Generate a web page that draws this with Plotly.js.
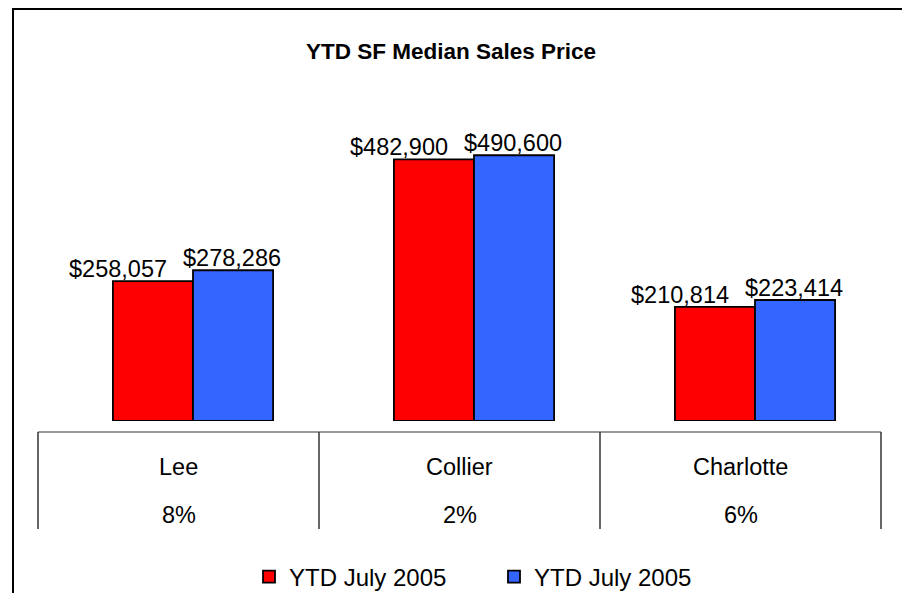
<!DOCTYPE html>
<html>
<head>
<meta charset="utf-8">
<script src="https://cdn.plot.ly/plotly-3.0.1.min.js"></script>
<style>html,body{margin:0;padding:0;background:#fff;}#chart{width:902px;height:593px;}</style>
</head>
<body>
<div id="chart"></div>
<script>
var categories = ["Lee", "Collier", "Charlotte"];
var seriesNames = ["YTD July 2005", "YTD July 2005"];
var series1 = [258057, 482900, 210814];
var series2 = [278286, 490600, 223414];
var pctChange = ["8%", "2%", "6%"];

var FONT = "Liberation Sans, Arial, sans-serif";
function money(v){ return "$" + v.toLocaleString("en-US"); }

var traces = [
  {type:"bar", name:seriesNames[0], x:categories, y:series1,
   marker:{color:"#FF0000", line:{color:"#000", width:1.8}}, hoverinfo:"skip"},
  {type:"bar", name:seriesNames[1], x:categories, y:series2,
   marker:{color:"#3366FF", line:{color:"#000", width:1.8}}, hoverinfo:"skip"}
];

// plot area: x 38..881, y 96..421
var H = 325, base = 421;
function py(pix){ return (base - pix) / H; }
var n = categories.length;
var barShift = 14.5 / 281; // bars sit slightly right of the table cells

var annotations = [];
categories.forEach(function(c, i){
  annotations.push({x:c, xref:"x", y:series1[i], yref:"y", text:money(series1[i]),
    showarrow:false, xanchor:"center", yanchor:"bottom", xshift:-75, yshift:-3,
    font:{family:FONT, size:23.5, color:"#000"}});
  annotations.push({x:c, xref:"x", y:series2[i], yref:"y", text:money(series2[i]),
    showarrow:false, xanchor:"center", yanchor:"bottom", xshift:39, yshift:-3,
    font:{family:FONT, size:23.5, color:"#000"}});
  annotations.push({x:(i+0.5)/n, xref:"paper", y:py(467), yref:"paper", text:c,
    showarrow:false, xanchor:"center", yanchor:"middle",
    font:{family:FONT, size:23.5, color:"#000"}});
  annotations.push({x:(i+0.5)/n, xref:"paper", y:py(515), yref:"paper", text:pctChange[i],
    showarrow:false, xanchor:"center", yanchor:"middle",
    font:{family:FONT, size:23.5, color:"#000"}});
});

var shapes = [
  {type:"rect", xref:"paper", yref:"paper", x0:(13-38)/843, x1:1.2, y0:py(9), y1:-0.8,
   line:{color:"#000", width:2}, fillcolor:"rgba(0,0,0,0)", layer:"below"},
  {type:"line", xref:"paper", yref:"paper", x0:0, x1:1, y0:py(432), y1:py(432),
   line:{color:"#777", width:1.5}}
];
for (var k = 0; k <= n; k++) {
  shapes.push({type:"line", xref:"paper", yref:"paper", x0:k/n, x1:k/n, y0:py(432), y1:py(529),
    line:{color:"#333", width:1.5}});
}

var layout = {
  width:902, height:593,
  margin:{l:38, r:21, t:96, b:172, autoexpand:false},
  paper_bgcolor:"#fff", plot_bgcolor:"#fff",
  font:{family:FONT, color:"#000"},
  title:{text:"<b>YTD SF Median Sales Price</b>", xref:"container", x:0.5, xanchor:"center",
         yref:"container", y:1-51/593, yanchor:"middle", font:{family:FONT, size:22.5, color:"#000"}},
  barmode:"group", bargap:0.43, bargroupgap:0,
  xaxis:{range:[-0.5 - barShift, n - 0.5 - barShift], showticklabels:false, showgrid:false, zeroline:false, showline:false, ticks:""},
  yaxis:{range:[0, 600000], showticklabels:false, showgrid:false, zeroline:false, showline:false, ticks:""},
  showlegend:true,
  legend:{orientation:"h", x:(494-38)/843, xanchor:"center", y:py(577), yanchor:"middle",
          entrywidth:200, entrywidthmode:"pixels",
          font:{family:FONT, size:24, color:"#000"}, bgcolor:"rgba(0,0,0,0)", traceorder:"normal"},
  annotations:annotations,
  shapes:shapes
};

Plotly.newPlot("chart", traces, layout, {displayModeBar:false, staticPlot:true});
</script>
</body>
</html>
